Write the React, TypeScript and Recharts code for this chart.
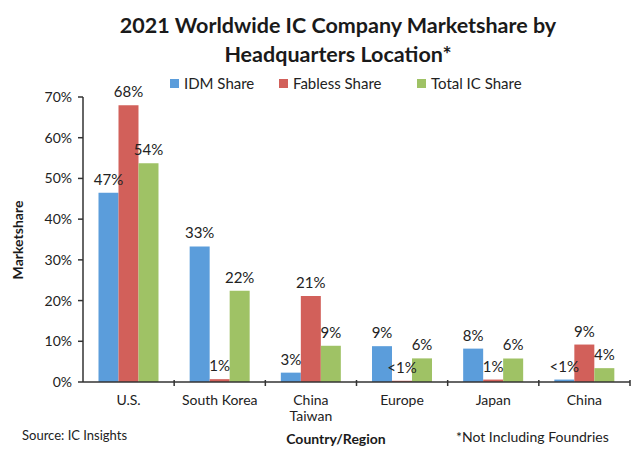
import React from "react";
import { BarChart, Bar, XAxis, YAxis, LabelList } from "recharts";

const categories = ["U.S.", "South Korea", "China\nTaiwan", "Europe", "Japan", "China"];
const idmShare = [46.5, 33.3, 2.3, 8.8, 8.2, 0.6];
const fablessShare = [68, 0.7, 21.1, 0.3, 0.6, 9.2];
const totalShare = [53.7, 22.4, 8.9, 5.8, 5.8, 3.4];
const idmLabels = ["47%", "33%", "3%", "9%", "8%", "<1%"];
const fablessLabels = ["68%", "1%", "21%", "<1%", "1%", "9%"];
const totalLabels = ["54%", "22%", "9%", "6%", "6%", "4%"];
const yTicks = [0, 10, 20, 30, 40, 50, 60, 70];

const seriesNames = ["IDM Share", "Fabless Share", "Total IC Share"];
const colors = ["#5b9ddb", "#d2605a", "#9fc265"];

const data = categories.map((c, i) => ({
  name: c,
  idm: idmShare[i],
  fabless: fablessShare[i],
  total: totalShare[i],
  idmLabel: idmLabels[i],
  fablessLabel: fablessLabels[i],
  totalLabel: totalLabels[i],
}));

const FONT = "Lato, 'Open Sans', sans-serif";
const BAND = 547 / 6;

const XTick = (props: any) => {
  const { x, y, payload } = props;
  const lines = String(payload.value).split("\n");
  return (
    <g>
      <line x1={x + BAND / 2} x2={x + BAND / 2} y1={y - 2} y2={y + 4} stroke="#333" strokeWidth={1.5} />
      <text x={x} y={y + 23} textAnchor="middle" fontSize={14} fill="#222" fontFamily={FONT}>
        {lines.map((l, i) => (
          <tspan key={i} x={x} dy={i === 0 ? 0 : 16}>
            {l}
          </tspan>
        ))}
      </text>
    </g>
  );
};

const legendLefts = [170, 279, 417];

export default function App() {
  return (
    <div style={{ position: "absolute", left: 0, top: 0, width: 640, height: 460, background: "#fff", fontFamily: FONT }}>
      <BarChart
        width={640}
        height={460}
        data={data}
        margin={{ top: 97, right: 10, bottom: 48, left: 23 }}
        barCategoryGap="17%"
        barGap={0}
      >
        <XAxis
          dataKey="name"
          height={30}
          tick={<XTick />}
          tickLine={false}
          tickSize={0}
          tickMargin={0}
          axisLine={{ stroke: "#333", strokeWidth: 1.5 }}
          interval={0}
        />
        <YAxis
          width={60}
          domain={[0, 70]}
          ticks={yTicks}
          tickFormatter={(v: number) => `${v}%`}
          tick={{ fontSize: 14, fill: "#222", fontFamily: FONT }}
          tickSize={5}
          tickMargin={6}
          tickLine={{ stroke: "#333", strokeWidth: 1.5 }}
          axisLine={{ stroke: "#333", strokeWidth: 1.5 }}
          interval={0}
        />
        <Bar dataKey="idm" name={seriesNames[0]} fill={colors[0]} isAnimationActive={false}>
          <LabelList dataKey="idmLabel" position="top" offset={8} fontSize={15} fill="#222" fontFamily={FONT} />
        </Bar>
        <Bar dataKey="fabless" name={seriesNames[1]} fill={colors[1]} isAnimationActive={false}>
          <LabelList dataKey="fablessLabel" position="top" offset={8} fontSize={15} fill="#222" fontFamily={FONT} />
        </Bar>
        <Bar dataKey="total" name={seriesNames[2]} fill={colors[2]} isAnimationActive={false}>
          <LabelList dataKey="totalLabel" position="top" offset={8} fontSize={15} fill="#222" fontFamily={FONT} />
        </Bar>
      </BarChart>
      <div
        style={{
          position: "absolute",
          left: 0,
          top: 11,
          width: 676,
          textAlign: "center",
          fontSize: 21.5,
          fontWeight: 700,
          lineHeight: "29px",
          color: "#1a1a1a",
        }}
      >
        2021 Worldwide IC Company Marketshare by
        <br />
        Headquarters Location*
      </div>
      {seriesNames.map((n, i) => (
        <div
          key={n}
          style={{
            position: "absolute",
            left: legendLefts[i],
            top: 74,
            display: "flex",
            alignItems: "center",
            fontSize: 15,
            color: "#222",
            whiteSpace: "nowrap",
          }}
        >
          <span style={{ display: "inline-block", width: 9, height: 9, background: colors[i], marginRight: 5 }} />
          {n}
        </div>
      ))}
      <div
        style={{
          position: "absolute",
          left: 17,
          top: 240,
          transform: "translate(-50%, -50%) rotate(-90deg)",
          fontSize: 14,
          fontWeight: 700,
          color: "#1a1a1a",
          whiteSpace: "nowrap",
        }}
      >
        Marketshare
      </div>
      <div style={{ position: "absolute", left: 22, top: 427, fontSize: 13, color: "#222", whiteSpace: "nowrap" }}>
        Source: IC Insights
      </div>
      <div
        style={{
          position: "absolute",
          left: 336,
          top: 430,
          transform: "translateX(-50%)",
          fontSize: 14,
          fontWeight: 700,
          color: "#1a1a1a",
          whiteSpace: "nowrap",
        }}
      >
        Country/Region
      </div>
      <div style={{ position: "absolute", left: 456, top: 428, fontSize: 14, color: "#222", whiteSpace: "nowrap" }}>
        *Not Including Foundries
      </div>
    </div>
  );
}
